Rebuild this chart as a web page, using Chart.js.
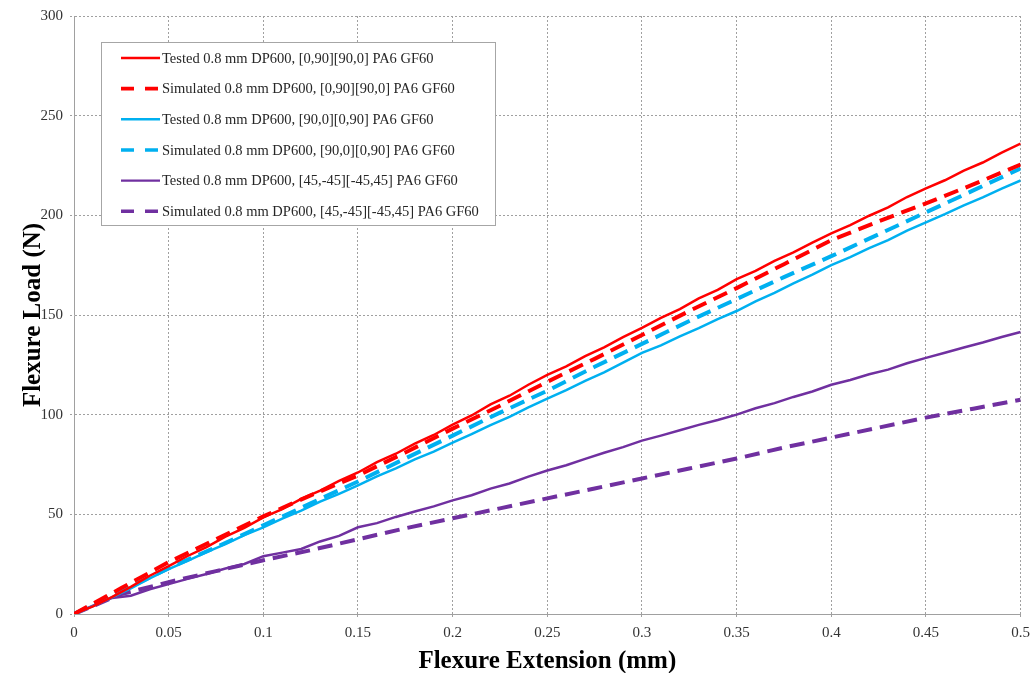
<!DOCTYPE html>
<html>
<head>
<meta charset="utf-8">
<title>Flexure Load vs Extension</title>
<script src="https://cdn.jsdelivr.net/npm/chart.js@4.4.0/dist/chart.umd.min.js"></script>
<style>
    html, body { margin: 0; padding: 0; background: #fff; }
    #wrap { width: 1036px; height: 673px; }
</style>
</head>
<body>
<div id="wrap"><canvas id="flexureChart" width="1036" height="673"></canvas></div>
<script>
// Extension (mm) sample points for the test curves
const extTested = [
    0, 0.01, 0.02, 0.03, 0.04, 0.05, 0.06, 0.07, 0.08, 0.09,
    0.10, 0.11, 0.12, 0.13, 0.14, 0.15, 0.16, 0.17, 0.18, 0.19,
    0.20, 0.21, 0.22, 0.23, 0.24, 0.25, 0.26, 0.27, 0.28, 0.29,
    0.30, 0.31, 0.32, 0.33, 0.34, 0.35, 0.36, 0.37, 0.38, 0.39,
    0.40, 0.41, 0.42, 0.43, 0.44, 0.45, 0.46, 0.47, 0.48, 0.49, 0.50
];

// Extension (mm) sample points for the simulation curves
const extSimulated = [
    0, 0.025, 0.05, 0.075, 0.1, 0.125, 0.15, 0.175, 0.2, 0.225, 0.25,
    0.275, 0.3, 0.325, 0.35, 0.375, 0.4, 0.425, 0.45, 0.475, 0.5
];

// Load (N)
const tested_0_90 = [
    0, 3.8, 8.5, 13.6, 19.2, 24.0, 29.1, 33.6, 38.8, 43.2,
    48.5, 52.6, 57.8, 61.9, 66.8, 71.0, 76.2, 80.4, 85.5, 89.8,
    95.0, 99.6, 105.2, 109.5, 115.0, 120.0, 124.2, 129.4, 133.8, 138.9,
    143.5, 148.6, 153.0, 158.3, 162.6, 168.0, 172.1, 177.2, 181.4, 186.3,
    191.0, 195.1, 199.8, 204.0, 209.2, 213.5, 217.6, 222.4, 226.5, 231.4, 236.0
];
const simulated_0_90 = [
    0, 13, 26, 37.5, 49, 59.5, 69.5, 81, 93, 104.5, 116.5,
    128, 140, 152, 163.5, 175.5, 187.5, 197, 206, 215.5, 225.5
];
const tested_90_0 = [
    0, 3.9, 8.4, 12.9, 17.9, 22.5, 26.6, 31.0, 35.1, 39.6,
    43.5, 47.8, 51.9, 56.4, 60.3, 64.5, 69.0, 73.1, 77.6, 81.5,
    86.0, 90.2, 94.7, 98.9, 103.6, 108.0, 112.3, 117.0, 121.2, 126.1,
    131.0, 134.8, 139.3, 143.4, 147.9, 152.0, 156.8, 161.1, 165.9, 170.2,
    175.0, 179.0, 183.5, 187.6, 192.3, 196.5, 200.6, 205.0, 209.0, 213.4, 217.5
];
const simulated_90_0 = [
    0, 11.5, 23, 33.5, 44.5, 55.5, 66.5, 78, 89.5, 101, 112,
    124, 135.5, 147, 158, 169, 179.5, 190.5, 201.5, 212.5, 223.5
];
const tested_45 = [
    0, 4.2, 8.0, 9.2, 12.4, 15.0, 17.6, 20.1, 22.8, 25.1,
    29.0, 30.8, 32.6, 36.4, 39.2, 43.5, 45.6, 48.7, 51.4, 54.0,
    57.0, 59.6, 62.9, 65.5, 68.9, 72.0, 74.6, 77.8, 80.9, 83.7,
    87.0, 89.5, 92.2, 94.9, 97.3, 100.0, 103.2, 105.8, 108.9, 111.6,
    115.0, 117.4, 120.3, 122.6, 125.8, 128.5, 131.1, 133.7, 136.2, 139.0, 141.5
];
const simulated_45 = [
    0, 10, 16, 21.5, 27, 32, 37.5, 43, 48, 53, 58,
    63, 68, 73, 78, 83.5, 88.5, 93.5, 98.5, 103, 107.5
];

const seriesLabels = [
    'Tested 0.8 mm DP600, [0,90][90,0] PA6 GF60',
    'Simulated 0.8 mm DP600, [0,90][90,0] PA6 GF60',
    'Tested 0.8 mm DP600, [90,0][0,90] PA6 GF60',
    'Simulated 0.8 mm DP600, [90,0][0,90] PA6 GF60',
    'Tested 0.8 mm DP600, [45,-45][-45,45] PA6 GF60',
    'Simulated 0.8 mm DP600, [45,-45][-45,45] PA6 GF60'
];

const RED = '#ff0000';
const BLUE = '#00b0f0';
const PURPLE = '#7030a0';
const GRID = '#a0a0a0';
const SERIF = '"Liberation Serif", "Times New Roman", Times, serif';

function toPoints(xs, ys) {
    return xs.map((x, i) => ({ x: x, y: ys[i] }));
}

function testedLine(label, xs, ys, color) {
    return {
        label: label,
        data: toPoints(xs, ys),
        borderColor: color,
        borderWidth: 2.5,
        borderDash: [],
        pointRadius: 0,
        tension: 0
    };
}

function simulatedLine(label, xs, ys, color) {
    return {
        label: label,
        data: toPoints(xs, ys),
        borderColor: color,
        borderWidth: 4,
        borderDash: [15, 8],
        pointRadius: 0,
        tension: 0
    };
}

// legend box drawn inside the plot area, top-left
const insideLegend = {
    id: 'insideLegend',
    afterDraw(chart) {
        const ctx = chart.ctx;
        const area = chart.chartArea;
        const x0 = area.left + 27;
        const y0 = area.top + 26;
        const w = 394;
        const h = 183;
        ctx.save();
        ctx.fillStyle = '#ffffff';
        ctx.fillRect(x0, y0, w, h);
        ctx.strokeStyle = '#a6a6a6';
        ctx.lineWidth = 1;
        ctx.strokeRect(x0 + 0.5, y0 + 0.5, w, h);
        ctx.font = '14.5px ' + SERIF;
        ctx.textBaseline = 'middle';
        ctx.textAlign = 'left';
        chart.data.datasets.forEach((ds, i) => {
            const y = y0 + 16 + i * 30.65;
            ctx.beginPath();
            ctx.strokeStyle = ds.borderColor;
            ctx.lineWidth = ds.borderDash.length ? 3.6 : 2.4;
            ctx.setLineDash(ds.borderDash.length ? [13, 11] : []);
            ctx.moveTo(x0 + 20, y);
            ctx.lineTo(x0 + 59, y);
            ctx.stroke();
            ctx.setLineDash([]);
            ctx.fillStyle = '#262626';
            ctx.fillText(ds.label, x0 + 61, y + 1);
        });
        ctx.restore();
    }
};

const ctx = document.getElementById('flexureChart').getContext('2d');
const flexureChart = new Chart(ctx, {
    type: 'line',
    data: {
        datasets: [
            testedLine(seriesLabels[0], extTested, tested_0_90, RED),
            simulatedLine(seriesLabels[1], extSimulated, simulated_0_90, RED),
            testedLine(seriesLabels[2], extTested, tested_90_0, BLUE),
            simulatedLine(seriesLabels[3], extSimulated, simulated_90_0, BLUE),
            testedLine(seriesLabels[4], extTested, tested_45, PURPLE),
            simulatedLine(seriesLabels[5], extSimulated, simulated_45, PURPLE)
        ]
    },
    options: {
        responsive: false,
        animation: false,
        layout: { padding: { top: 15, right: 12, bottom: 0, left: 0 } },
        plugins: {
            legend: { display: false },
            tooltip: { enabled: false }
        },
        scales: {
            x: {
                type: 'linear',
                min: 0,
                max: 0.5,
                ticks: {
                    stepSize: 0.05,
                    padding: 6,
                    maxRotation: 0,
                    color: '#333',
                    font: { family: SERIF, size: 15 },
                    callback: function(value) {
                        return String(+value.toFixed(2));
                    }
                },
                grid: {
                    color: GRID,
                    lineWidth: 1,
                    tickLength: 4,
                    tickBorderDash: [2, 2],
                    tickColor: GRID
                },
                // in v4 the grid line dash comes from border.dash; the axis line itself stays solid
                border: { display: true, color: GRID, width: 1, dash: [2, 2] },
                title: {
                    display: true,
                    text: 'Flexure Extension (mm)',
                    color: '#000',
                    font: { family: SERIF, size: 25, weight: 'bold' },
                    padding: { top: 0, bottom: -4 }
                },
                afterFit: function(scale) { scale.height = 59; }
            },
            y: {
                min: 0,
                max: 300,
                ticks: {
                    stepSize: 50,
                    padding: 7,
                    color: '#333',
                    font: { family: SERIF, size: 15 }
                },
                grid: {
                    color: GRID,
                    lineWidth: 1,
                    tickLength: 4,
                    tickBorderDash: [2, 2],
                    tickColor: GRID
                },
                border: { display: true, color: GRID, width: 1, dash: [2, 2] },
                title: {
                    display: true,
                    text: 'Flexure Load (N)',
                    color: '#000',
                    font: { family: SERIF, size: 25, weight: 'bold' },
                    padding: { top: 19, bottom: 0 }
                },
                afterFit: function(scale) { scale.width = 74; }
            }
        }
    },
    plugins: [insideLegend]
});
</script>
</body>
</html>
